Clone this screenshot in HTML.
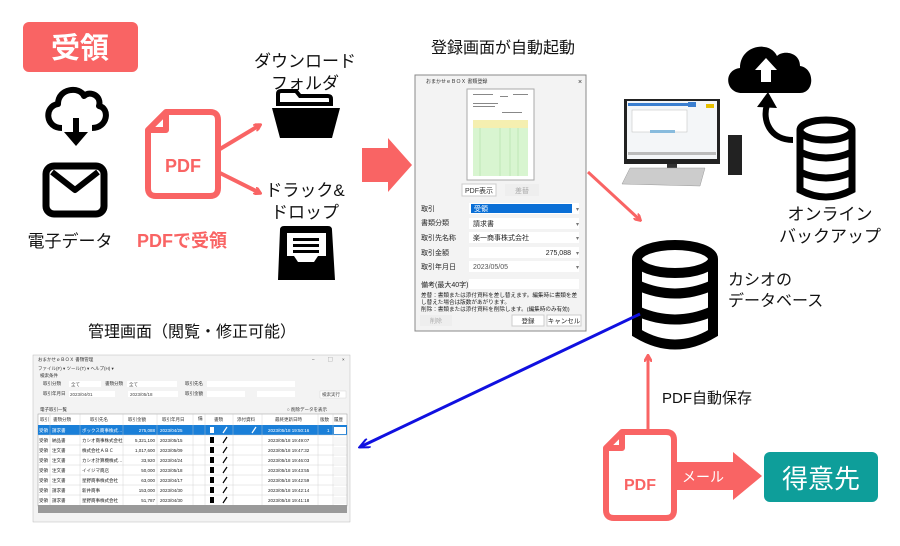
<!DOCTYPE html>
<html><head><meta charset="utf-8"><style>
body{margin:0;background:#fff;width:900px;height:546px;overflow:hidden}
svg{display:block;font-family:"Liberation Sans","Noto Sans CJK JP",sans-serif}
</style></head><body>
<svg width="900" height="546" viewBox="0 0 900 546" xmlns="http://www.w3.org/2000/svg">
<defs>
<marker id="ar" markerWidth="8" markerHeight="8" refX="6" refY="4" orient="auto" markerUnits="userSpaceOnUse"><path d="M0,0 L7,4 L0,8" fill="none" stroke="#f96464" stroke-width="2.5"/></marker>
<marker id="ab" markerWidth="12" markerHeight="10" refX="10" refY="5" orient="auto" markerUnits="userSpaceOnUse"><path d="M0,0 L11,5 L0,10" fill="none" stroke="#1010e0" stroke-width="2"/></marker>
</defs>
<!-- 受領 -->
<rect x="23" y="22" width="115" height="50" rx="6" fill="#f96464"/>
<text x="80" y="58" font-size="29" fill="#fff" text-anchor="middle" font-weight="bold">受領</text>
<!-- cloud download -->
<path d="M62,128 C45,128 44,106 58,104 C58,88 80,86 84,96 C90,90 102,96 99,106 C110,108 108,128 92,128" fill="none" stroke="#000" stroke-width="6" stroke-linejoin="round"/>
<rect x="73" y="118" width="6" height="16" fill="#000"/>
<path d="M64,132 L88,132 L76,146 Z" fill="#000"/>
<!-- mail -->
<rect x="46" y="166" width="58" height="48" rx="8" fill="none" stroke="#000" stroke-width="7"/>
<path d="M52,172 L75,190 L98,172" fill="none" stroke="#000" stroke-width="6" stroke-linejoin="round"/>
<text x="70" y="247" font-size="17" text-anchor="middle" fill="#111">電子データ</text>
<!-- PDF file -->
<path d="M166,112 L210,112 Q218,112 218,120 L218,188 Q218,196 210,196 L156,196 Q148,196 148,188 L148,130 Z" fill="none" stroke="#f96464" stroke-width="6" stroke-linejoin="round"/>
<path d="M148,130 L166,130 L166,112" fill="none" stroke="#f96464" stroke-width="6" stroke-linejoin="round"/>
<text x="183" y="172" font-size="18" font-weight="bold" fill="#f96464" text-anchor="middle">PDF</text>
<text x="182" y="247" font-size="18" font-weight="bold" fill="#f96464" text-anchor="middle">PDFで受領</text>
<line x1="220" y1="149" x2="260" y2="125" stroke="#f96464" stroke-width="4" marker-end="url(#ar)"/>
<line x1="220" y1="173" x2="260" y2="193" stroke="#f96464" stroke-width="4" marker-end="url(#ar)"/>
<!-- folder -->
<text x="305" y="67" font-size="17" text-anchor="middle" fill="#111">ダウンロード</text>
<text x="305" y="89" font-size="17" text-anchor="middle" fill="#111">フォルダ</text>
<path d="M278,104 L278,94 Q278,91 281,91 L296,91 L300,96 L328,96 Q331,96 331,99 L331,104 Z" fill="none" stroke="#000" stroke-width="4"/>
<path d="M272,108 L340,108 L332,138 L280,138 Z" fill="#000"/>
<text x="305" y="196" font-size="17" text-anchor="middle" fill="#111">ドラック&amp;</text>
<text x="305" y="218" font-size="17" text-anchor="middle" fill="#111">ドロップ</text>
<!-- tray -->
<path d="M284,226 L328,226 Q332,226 332,230 L335,280 L278,280 L280,230 Q280,226 284,226 Z" fill="#000"/>
<path d="M287,256 L287,233 L326,233 L326,256 L318,256 L314,262 L298,262 L294,256 Z" fill="#fff"/>
<rect x="293" y="238" width="26" height="3" fill="#000"/><rect x="293" y="244" width="26" height="3" fill="#000"/><rect x="293" y="250" width="26" height="3" fill="#000"/>
<!-- big arrow -->
<path d="M362,148 L388,148 L388,138 L412,165 L388,192 L388,182 L362,182 Z" fill="#f96464"/>
<text x="503" y="53" font-size="16" text-anchor="middle" fill="#111">登録画面が自動起動</text>
<!-- dialog -->
<rect x="415" y="75" width="171" height="256" fill="#f3f3f3" stroke="#888" stroke-width="1"/>
<text x="426" y="83" font-size="5" fill="#333">おまかせｅＢＯＸ 書類登録</text>
<text x="578" y="84" font-size="7" fill="#333">×</text>
<rect x="467" y="89" width="67" height="91" fill="#fff" stroke="#aaa"/>
<rect x="473" y="120" width="55" height="8" fill="#f5efb0"/>
<rect x="473" y="128" width="55" height="48" fill="#d8f5d0"/>
<g stroke="#9bd08f" stroke-width="0.4"><line x1="480" y1="128" x2="480" y2="176"/><line x1="500" y1="128" x2="500" y2="176"/><line x1="510" y1="128" x2="510" y2="176"/><line x1="518" y1="128" x2="518" y2="176"/></g>
<g fill="#888"><rect x="473" y="94" width="20" height="1"/><rect x="500" y="96" width="8" height="1"/><rect x="513" y="94" width="15" height="1"/><rect x="473" y="103" width="25" height="1"/><rect x="473" y="106" width="22" height="1"/><rect x="502" y="112" width="20" height="1"/></g>
<rect x="462" y="184" width="34" height="12" fill="#fff" stroke="#ccc"/>
<text x="479" y="193" font-size="7" text-anchor="middle" fill="#333">PDF表示</text>
<rect x="505" y="184" width="34" height="12" fill="#eee"/>
<text x="522" y="193" font-size="7" text-anchor="middle" fill="#aaa">差替</text>
<g font-size="7" fill="#222">
<text x="421" y="211">取引</text><text x="421" y="225">書類分類</text><text x="421" y="240">取引先名称</text><text x="421" y="255">取引金額</text><text x="421" y="269">取引年月日</text><text x="421" y="287">備考(最大40字)</text>
</g>
<rect x="469" y="203" width="110" height="11" fill="#fff"/><rect x="471" y="204" width="101" height="9" fill="#0a6fd6"/>
<text x="474" y="211" font-size="7" fill="#fff">受領</text>
<rect x="469" y="218" width="110" height="11" fill="#fff"/><text x="473" y="226" font-size="7" fill="#222">請求書</text>
<rect x="469" y="232" width="110" height="11" fill="#fff"/><text x="473" y="240" font-size="7" fill="#222">楽一商事株式会社</text>
<rect x="469" y="247" width="110" height="11" fill="#fff"/><text x="571" y="255" font-size="7" fill="#222" text-anchor="end">275,088</text>
<rect x="469" y="261" width="110" height="11" fill="#fff"/><text x="473" y="269" font-size="7" fill="#555">2023/05/05</text>
<g font-size="6" fill="#777"><text x="576" y="211">▾</text><text x="576" y="226">▾</text><text x="576" y="240">▾</text><text x="576" y="255">▾</text><text x="576" y="269">▾</text></g>
<rect x="469" y="279" width="110" height="10" fill="#fff"/>
<g font-size="5.6" fill="#222"><text x="421" y="297">差替：書類または添付資料を差し替えます。編集時に書類を差</text><text x="421" y="304">し替えた場合は版数があがります。</text><text x="421" y="311">削除：書類または添付資料を削除します。(編集時のみ有効)</text></g>
<rect x="420" y="315" width="32" height="11" fill="#eee"/><text x="436" y="323" font-size="6" fill="#aaa" text-anchor="middle">削除</text>
<rect x="512" y="315" width="32" height="11" fill="#fff" stroke="#ccc"/><text x="528" y="323" font-size="6.5" fill="#222" text-anchor="middle">登録</text>
<rect x="547" y="315" width="34" height="11" fill="#fff" stroke="#ccc"/><text x="564" y="323" font-size="6.5" fill="#222" text-anchor="middle">キャンセル</text>
<line x1="588" y1="172" x2="640" y2="220" stroke="#f96464" stroke-width="3" marker-end="url(#ar)"/>
<!-- PC -->
<rect x="624" y="99" width="96" height="65" fill="#222"/>
<rect x="627" y="101" width="90" height="58" fill="#f4f6f8"/>
<rect x="628" y="103" width="60" height="3" fill="#3b7fd0"/>
<rect x="632" y="110" width="55" height="22" fill="#fff" stroke="#bbb" stroke-width="0.5"/>
<rect x="688" y="102" width="8" height="5" fill="#3b7fd0"/><rect x="706" y="104" width="8" height="4" fill="#e8c000"/>
<rect x="628" y="152" width="88" height="3" fill="#bbb"/><rect x="650" y="130" width="25" height="3" fill="#8bd"/>
<rect x="667" y="164" width="10" height="12" fill="#333"/><rect x="655" y="175" width="34" height="3" fill="#333"/>
<path d="M630,168 L705,168 L700,186 L622,184 Z" fill="#ccc" stroke="#999" stroke-width="0.5"/>
<rect x="728" y="135" width="14" height="40" fill="#222"/>
<!-- cloud upload -->
<path d="M742,93 C725,93 723,70 740,68 C740,45 770,40 777,56 C783,50 800,52 800,66 C815,68 815,93 800,93 Z" fill="#000"/>
<path d="M766,58 L777,70 L771,70 L771,82 L761,82 L761,70 L755,70 Z" fill="#fff"/>
<!-- curved arrow -->
<path d="M793,140 C770,140 762,120 767,105" fill="none" stroke="#000" stroke-width="6"/>
<path d="M757,107 L768,92 L777,108 Z" fill="#000"/>
<!-- small db -->
<g fill="none" stroke="#000" stroke-width="7">
<ellipse cx="826" cy="130" rx="26" ry="10"/>
<path d="M800,130 L800,190 Q826,204 852,190 L852,130"/>
<path d="M800,152 Q826,164 852,152"/><path d="M800,172 Q826,184 852,172"/>
</g>
<text x="830" y="220" font-size="17" text-anchor="middle" fill="#111">オンライン</text>
<text x="830" y="242" font-size="17" text-anchor="middle" fill="#111">バックアップ</text>
<!-- big db -->
<g fill="none" stroke="#000" stroke-width="10">
<ellipse cx="675" cy="259" rx="38" ry="14"/>
<path d="M637,259 L637,333 Q675,356 713,333 L713,259"/>
<path d="M637,285 Q675,302 713,285"/><path d="M637,311 Q675,328 713,311"/>
</g>
<text x="728" y="285" font-size="16" fill="#111">カシオの</text>
<text x="728" y="306" font-size="16" fill="#111">データベース</text>
<!-- blue line -->
<line x1="640" y1="314" x2="360" y2="447" stroke="#1010e0" stroke-width="3" marker-end="url(#ab)"/>
<text x="192" y="337" font-size="16" text-anchor="middle" fill="#111">管理画面（閲覧・修正可能）</text>
<!-- management window -->
<rect x="33" y="355" width="317" height="167" fill="#f3f3f3" stroke="#bbb" stroke-width="0.5"/>
<g font-size="4.5" fill="#333">
<text x="38" y="361">おまかせｅＢＯＸ 書類管理</text>
<text x="312" y="361">–</text><text x="328" y="361">▢</text><text x="342" y="361">×</text>
<text x="38" y="370">ファイル(F) ▾ ツール(T) ▾ ヘルプ(H) ▾</text>
<text x="40" y="377">検索条件</text>
<text x="43" y="385">取引分類</text><text x="105" y="385">書類分類</text><text x="185" y="385">取引先名</text>
<text x="43" y="395">取引年月日</text><text x="185" y="395">取引金額</text>
<text x="40" y="411">電子取引一覧</text>
<text x="287" y="411">○ 削除データを表示</text>
</g>
<rect x="69" y="381" width="32" height="6" fill="#fff"/><rect x="127" y="381" width="50" height="6" fill="#fff"/><rect x="207" y="381" width="88" height="6" fill="#fff"/>
<rect x="69" y="391" width="46" height="6" fill="#fff"/><rect x="128" y="391" width="50" height="6" fill="#fff"/><rect x="207" y="391" width="38" height="6" fill="#fff"/><rect x="257" y="391" width="38" height="6" fill="#fff"/>
<rect x="320" y="391" width="26" height="7" fill="#fff" stroke="#ccc" stroke-width="0.4"/>
<g font-size="4.5" fill="#444"><text x="71" y="386">全て</text><text x="129" y="386">全て</text><text x="70" y="396">2023/04/01</text><text x="130" y="396">2023/05/18</text><text x="322" y="396">検索実行</text></g>
<rect x="38" y="414" width="309" height="92" fill="#fff" stroke="#999" stroke-width="0.5"/>
<g font-size="4.5" fill="#333">
<text x="40" y="421">取引</text><text x="53" y="421">書類分類</text><text x="90" y="421">取引先名</text><text x="128" y="421">取引金額</text><text x="162" y="421">取引年月日</text><text x="198" y="420">備</text><text x="214" y="421">書類</text><text x="237" y="421">添付資料</text><text x="275" y="421">最終更新日時</text><text x="320" y="421">版数</text><text x="334" y="421">履歴</text>
</g>
<rect x="38" y="425" width="309" height="10" fill="#1a7fd8"/>
<g stroke="#ccc" stroke-width="0.4">
<line x1="38" y1="445" x2="347" y2="445"/><line x1="38" y1="455" x2="347" y2="455"/><line x1="38" y1="465" x2="347" y2="465"/><line x1="38" y1="475" x2="347" y2="475"/><line x1="38" y1="485" x2="347" y2="485"/><line x1="38" y1="495" x2="347" y2="495"/><line x1="38" y1="435" x2="347" y2="435"/>
<line x1="50" y1="414" x2="50" y2="505"/><line x1="80" y1="414" x2="80" y2="505"/><line x1="123" y1="414" x2="123" y2="505"/><line x1="157" y1="414" x2="157" y2="505"/><line x1="193" y1="414" x2="193" y2="505"/><line x1="205" y1="414" x2="205" y2="505"/><line x1="233" y1="414" x2="233" y2="505"/><line x1="262" y1="414" x2="262" y2="505"/><line x1="318" y1="414" x2="318" y2="505"/><line x1="333" y1="414" x2="333" y2="505"/>
</g>
<g font-size="4.5" fill="#222">
<g fill="#fff"><text x="39" y="432">受領</text><text x="52" y="432">請求書</text><text x="82" y="432">ボックス商事株式…</text><text x="155" y="432" text-anchor="end">275,088</text><text x="160" y="432">2023/04/25</text><text x="268" y="432">2023/05/18 19:50:16</text><text x="327" y="432">1</text></g>
<text x="39" y="442">受領</text><text x="52" y="442">納品書</text><text x="82" y="442">カシオ商事株式会社</text><text x="155" y="442" text-anchor="end">5,321,100</text><text x="160" y="442">2023/05/15</text><text x="268" y="442">2023/05/18 19:49:07</text>
<text x="39" y="452">受領</text><text x="52" y="452">注文書</text><text x="82" y="452">株式会社ＡＢＣ</text><text x="155" y="452" text-anchor="end">1,017,600</text><text x="160" y="452">2023/05/09</text><text x="268" y="452">2023/05/18 19:47:32</text>
<text x="39" y="462">受領</text><text x="52" y="462">注文書</text><text x="82" y="462">カシオ計算機株式…</text><text x="155" y="462" text-anchor="end">33,920</text><text x="160" y="462">2023/04/24</text><text x="268" y="462">2023/05/18 19:46:03</text>
<text x="39" y="472">受領</text><text x="52" y="472">注文書</text><text x="82" y="472">イイジマ商店</text><text x="155" y="472" text-anchor="end">50,000</text><text x="160" y="472">2023/05/18</text><text x="268" y="472">2023/05/18 19:43:55</text>
<text x="39" y="482">受領</text><text x="52" y="482">注文書</text><text x="82" y="482">星野商事株式会社</text><text x="155" y="482" text-anchor="end">63,000</text><text x="160" y="482">2023/04/17</text><text x="268" y="482">2023/05/18 19:42:59</text>
<text x="39" y="492">受領</text><text x="52" y="492">請求書</text><text x="82" y="492">新井商事</text><text x="155" y="492" text-anchor="end">153,000</text><text x="160" y="492">2023/04/30</text><text x="268" y="492">2023/05/18 19:42:14</text>
<text x="39" y="502">受領</text><text x="52" y="502">請求書</text><text x="82" y="502">星野商事株式会社</text><text x="155" y="502" text-anchor="end">51,787</text><text x="160" y="502">2023/04/30</text><text x="268" y="502">2023/05/18 19:41:18</text>
</g>
<g fill="#000">
<rect x="210" y="427" width="4" height="6" fill="#fff"/><rect x="210" y="437" width="4" height="6"/><rect x="210" y="447" width="4" height="6"/><rect x="210" y="457" width="4" height="6"/><rect x="210" y="467" width="4" height="6"/><rect x="210" y="477" width="4" height="6"/><rect x="210" y="487" width="4" height="6"/><rect x="210" y="497" width="4" height="6"/>
</g>
<g stroke="#000" stroke-width="1.2"><line x1="223" y1="433" x2="227" y2="427" stroke="#fff"/><line x1="223" y1="443" x2="227" y2="437"/><line x1="223" y1="453" x2="227" y2="447"/><line x1="223" y1="463" x2="227" y2="457"/><line x1="223" y1="473" x2="227" y2="467"/><line x1="223" y1="483" x2="227" y2="477"/><line x1="223" y1="493" x2="227" y2="487"/><line x1="223" y1="503" x2="227" y2="497"/><line x1="252" y1="433" x2="256" y2="427" stroke="#fff"/></g>
<g><rect x="334" y="427" width="12" height="7" fill="#fff"/><rect x="334" y="437" width="12" height="7" fill="#f7f7f7"/><rect x="334" y="447" width="12" height="7" fill="#f7f7f7"/><rect x="334" y="457" width="12" height="7" fill="#f7f7f7"/><rect x="334" y="467" width="12" height="7" fill="#f7f7f7"/><rect x="334" y="477" width="12" height="7" fill="#f7f7f7"/><rect x="334" y="487" width="12" height="7" fill="#f7f7f7"/><rect x="334" y="497" width="12" height="7" fill="#f7f7f7"/></g>
<rect x="38" y="505" width="309" height="8" fill="#9a9a9a"/>
<!-- red up arrow -->
<line x1="648" y1="430" x2="648" y2="356" stroke="#f96464" stroke-width="3" marker-end="url(#ar)"/>
<text x="662" y="403" font-size="15" fill="#111">PDF自動保存</text>
<!-- bottom pdf -->
<path d="M622,432 L666,432 Q674,432 674,440 L674,510 Q674,518 666,518 L614,518 Q606,518 606,510 L606,448 Z" fill="none" stroke="#f96464" stroke-width="6" stroke-linejoin="round"/>
<path d="M606,448 L622,448 L622,432" fill="none" stroke="#f96464" stroke-width="6" stroke-linejoin="round"/>
<text x="640" y="490" font-size="16" font-weight="bold" fill="#f96464" text-anchor="middle">PDF</text>
<path d="M677,462 L733,462 L733,452 L762,476 L733,500 L733,490 L677,490 Z" fill="#f96464"/>
<text x="703" y="482" font-size="14" fill="#fff" text-anchor="middle">メール</text>
<rect x="764" y="452" width="114" height="50" rx="6" fill="#0e9e9a"/>
<text x="821" y="488" font-size="26" fill="#fff" text-anchor="middle">得意先</text>
</svg>
</body></html>
